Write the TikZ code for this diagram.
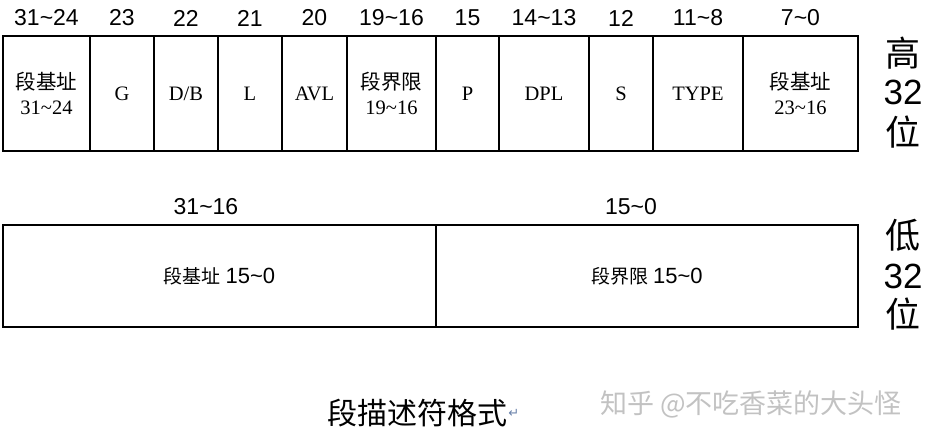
\documentclass[tikz,border=0pt]{standalone}
\usepackage{fontspec}
\setmainfont{Liberation Serif}
\newfontfamily\cjk{Noto Sans CJK SC}
\newfontfamily\hv{Liberation Sans}
\newfontfamily\dvs{DejaVu Sans}
\definecolor{wmgray}{HTML}{C2C2C2}
\definecolor{retblue}{HTML}{6A82AA}
\newcommand{\tld}{\textasciitilde}
\tikzset{
  cell/.style={draw=black, line width=1.1pt, minimum height=115pt, inner sep=0pt, align=center,
    font=\fontsize{20.5}{25}\selectfont},
  lowcell/.style={draw=black, line width=1.1pt, minimum height=102pt, inner sep=0pt, align=center,
    font=\fontsize{19}{22}\selectfont},
  bitlbl/.style={inner sep=0pt, font=\hv\fontsize{23}{25}\selectfont},
  side/.style={inner sep=0pt, font=\fontsize{35}{38}\selectfont},
}
\begin{document}
\begin{tikzpicture}[x=1pt,y=-1pt]
\useasboundingbox (0,0) rectangle (930,442);
% high 32 bits
\node[cell, minimum width=87pt]  (c1)  at (46.5,93.5)  {{\cjk 段基址}\\31\tld24};
\node[cell, minimum width=64pt]  (c2)  at (122,93.5)   {G};
\node[cell, minimum width=64pt]  (c3)  at (186,93.5)   {D/B};
\node[cell, minimum width=64pt]  (c4)  at (250,93.5)   {L};
\node[cell, minimum width=65pt]  (c5)  at (314.5,93.5) {AVL};
\node[cell, minimum width=89pt]  (c6)  at (391.5,93.5) {{\cjk 段界限}\\19\tld16};
\node[cell, minimum width=63pt]  (c7)  at (467.5,93.5) {P};
\node[cell, minimum width=90pt]  (c8)  at (544,93.5)   {DPL};
\node[cell, minimum width=64pt]  (c9)  at (621,93.5)   {S};
\node[cell, minimum width=90pt]  (c10) at (698,93.5)   {TYPE};
\node[cell, minimum width=115pt] (c11) at (800.5,93.5) {{\cjk 段基址}\\23\tld16};
% bit labels
\node[bitlbl] (b1)  at (46.5,18)  {31\tld24};
\node[bitlbl] (b2)  at (122,18)   {23};
\node[bitlbl] (b3)  at (186,18)   {22};
\node[bitlbl] (b4)  at (250,18)   {21};
\node[bitlbl] (b5)  at (314.5,18) {20};
\node[bitlbl] (b6)  at (391.5,18) {19\tld16};
\node[bitlbl] (b7)  at (467.5,18) {15};
\node[bitlbl] (b8)  at (544,18)   {14\tld13};
\node[bitlbl] (b9)  at (621,18)   {12};
\node[bitlbl] (b10) at (698,18)   {11\tld8};
\node[bitlbl] (b11) at (800.5,18) {7\tld0};
% low 32 bits
\node[lowcell, minimum width=433pt] (l1) at (219.5,276) {{\cjk 段基址} {\hv\fontsize{22}{22}\selectfont 15\tld0}};
\node[lowcell, minimum width=422pt] (l2) at (647,276)   {{\cjk 段界限} {\hv\fontsize{22}{22}\selectfont 15\tld0}};
\node[bitlbl] (lb1) at (206,207) {31\tld16};
\node[bitlbl] (lb2) at (631,207) {15\tld0};
% side labels
\node[side, font=\cjk\fontsize{35}{38}\selectfont] (h1) at (903,53)  {高};
\node[side, font=\hv\fontsize{35}{38}\selectfont]  (h2) at (903,92.5) {32};
\node[side, font=\cjk\fontsize{35}{38}\selectfont] (h3) at (903,132) {位};
\node[side, font=\cjk\fontsize{35}{38}\selectfont] (d1) at (903,235) {低};
\node[side, font=\hv\fontsize{35}{38}\selectfont]  (d2) at (903,276) {32};
\node[side, font=\cjk\fontsize{35}{38}\selectfont] (d3) at (903,314) {位};
% caption
\node[inner sep=0pt, font=\cjk\fontsize{30}{32}\selectfont] (cap) at (417,413) {段描述符格式};
\node[inner sep=1pt, text=retblue, font=\dvs\fontsize{13}{14}\selectfont, anchor=west] (ret) at (cap.east) {↵};
% watermark
\node[inner sep=0pt, text=wmgray, font=\cjk\fontsize{27}{29}\selectfont] (wm) at (751,404) {知乎 @不吃香菜的大头怪};
\end{tikzpicture}
\end{document}
